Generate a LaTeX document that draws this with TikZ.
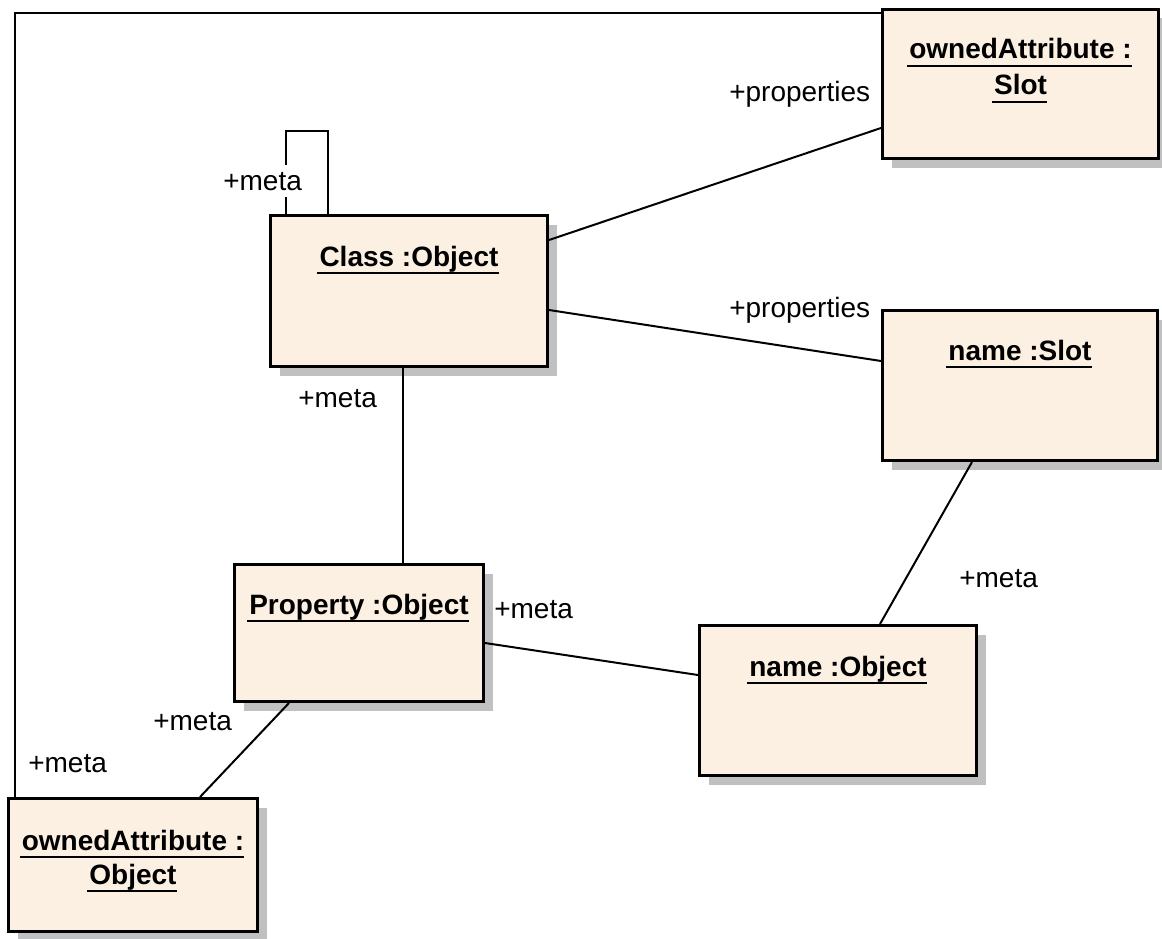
\documentclass[tikz,border=0pt]{standalone}
\usepackage{fontspec}
\setmainfont{Liberation Sans}
\usetikzlibrary{calc,shadows}

\definecolor{objfill}{RGB}{251,240,226}
\definecolor{shadowgray}{RGB}{192,192,192}

\tikzset{
  objbox/.style 2 args={
    draw=black, line width=2.25pt, fill=objfill, anchor=north west,
    inner sep=0pt, minimum width=#1*0.75pt, minimum height=#2*0.75pt,
    drop shadow={shadow xshift=6.75pt, shadow yshift=-6.75pt,
                 fill=shadowgray, opacity=1}},
  objtitle/.style={anchor=base, inner sep=0pt,
    font=\fontsize{21}{25}\selectfont\bfseries},
  uline/.style={line width=1.5pt},
  conn/.style={line width=1.5pt},
  role/.style={anchor=base west, inner sep=0pt,
    font=\fontsize{21}{25}\selectfont}
}

\newcommand{\underlined}[1]{%
  \draw[uline] ($(#1.base west)+(-2,7)$) -- ($(#1.base east)+(0,7)$);}

\begin{document}
\begin{tikzpicture}[x=0.75pt, y=-0.75pt]
  \useasboundingbox[fill=white] (0,0) rectangle (1162,938);

  % object boxes
  \node[objbox={276}{149}] (slotOA) at (881,8) {};
  \node[objbox={277}{151}] (cls)    at (269,214) {};
  \node[objbox={275}{150}] (slotN)  at (881,309) {};
  \node[objbox={249}{137}] (prop)   at (233,563) {};
  \node[objbox={277}{150}] (objN)   at (698,624) {};
  \node[objbox={249}{133}] (objOA)  at (7,797) {};

  % underlined instance names
  \node[objtitle] (tSlotOA1) at ($(slotOA.north)+(0,51)$) {ownedAttribute :};
  \node[objtitle] (tSlotOA2) at ($(slotOA.north)+(0,87)$) {Slot};
  \node[objtitle] (tCls)     at ($(cls.north)+(0,52)$)    {Class :Object};
  \node[objtitle] (tSlotN)   at ($(slotN.north)+(0,51)$)  {name :Slot};
  \node[objtitle] (tProp)    at ($(prop.north)+(0,51)$)   {Property :Object};
  \node[objtitle] (tObjN)    at ($(objN.north)+(0,52)$)   {name :Object};
  \node[objtitle] (tObjOA1)  at ($(objOA.north)+(0,53)$)  {ownedAttribute :};
  \node[objtitle] (tObjOA2)  at ($(objOA.north)+(0,87)$)  {Object};
  \foreach \t in {tSlotOA1,tSlotOA2,tCls,tSlotN,tProp,tObjN,tObjOA1,tObjOA2}
    {\underlined{\t}}

  % links
  \draw[conn] ($(slotOA.north west)+(0,5)$) -| ($(objOA.north west)+(8,0)$);
  \draw[conn] ($(cls.north east)+(0,26)$) -- ($(slotOA.north west)+(0,120)$);
  \draw[conn] ($(cls.north east)+(0,96)$) -- ($(slotN.north west)+(0,52)$);
  \draw[conn] ($(cls.south west)+(134,0)$) -- ($(prop.north west)+(170,0)$);
  \draw[conn] ($(prop.north east)+(0,80)$) -- ($(objN.north west)+(0,51)$);
  \draw[conn] ($(slotN.south west)+(91,0)$) -- ($(objN.north west)+(182,0)$);
  \draw[conn] ($(prop.south west)+(56,0)$) -- ($(objOA.north west)+(193,0)$);
  \draw[conn] ($(cls.north west)+(17,0)$) -- ++(0,-83) -| ($(cls.north west)+(59,0)$);

  % role names
  \node[role] (rProp1) at (729,102) {+properties};
  \node[role] (rProp2) at (729,317) {+properties};
  \node[role, fill=white, inner ysep=5pt] (rSelf) at (223,190) {+meta};
  \node[role] (rCls)   at (298,407) {+meta};
  \node[role] (rPropR) at (494,618) {+meta};
  \node[role] (rSlotN) at (959,587) {+meta};
  \node[role] (rPropB) at (153,730) {+meta};
  \node[role] (rOuter) at (28,772)  {+meta};
\end{tikzpicture}
\end{document}
